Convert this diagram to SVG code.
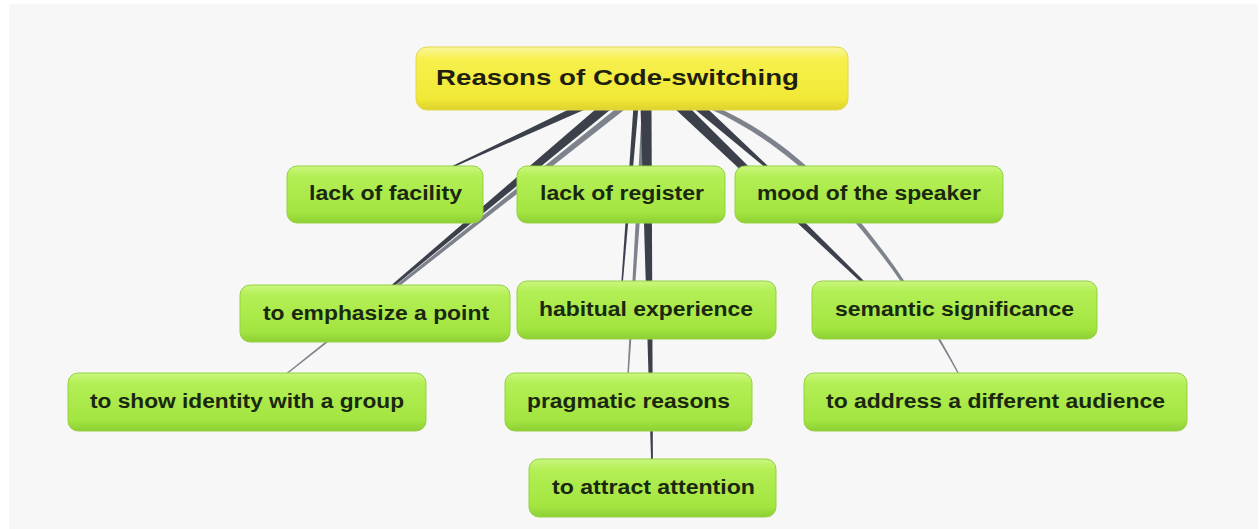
<svg xmlns="http://www.w3.org/2000/svg" width="1260" height="529" viewBox="0 0 1260 529">
  <defs>
    <linearGradient id="gGreen" x1="0" y1="0" x2="0" y2="1">
      <stop offset="0" stop-color="#c9f77e"/>
      <stop offset="0.18" stop-color="#b3ef55"/>
      <stop offset="0.82" stop-color="#a3e540"/>
      <stop offset="1" stop-color="#8ccf34"/>
    </linearGradient>
    <linearGradient id="gYellow" x1="0" y1="0" x2="0" y2="1">
      <stop offset="0" stop-color="#faf79c"/>
      <stop offset="0.2" stop-color="#f6f04c"/>
      <stop offset="0.82" stop-color="#f1e936"/>
      <stop offset="1" stop-color="#ddd22c"/>
    </linearGradient>
    <style>
      .box { fill: url(#gGreen); stroke: #97d044; stroke-width: 1; }
      .root { fill: url(#gYellow); stroke: #e2d84a; stroke-width: 1; }
      .lbl { font-family: "Liberation Sans", Arial, sans-serif; font-weight: bold; font-size: 19.5px; fill: #1a2810; }
      .title { font-family: "Liberation Sans", Arial, sans-serif; font-weight: bold; font-size: 22.5px; fill: #1f1f10; }
      .dark { fill: #3c404b; }
      .light { fill: #7e828c; }
    </style>
  </defs>

  <!-- page and canvas -->
  <rect x="0" y="0" width="1260" height="529" fill="#ffffff"/>
  <rect x="9" y="4" width="1249" height="525" fill="#f7f7f7"/>

  <!-- tapered branches, drawn under the nodes -->
  <g id="connectors">
    <polygon class="dark" points="582.5,102.8 451.7,166.3 452.3,167.7 585.5,109.2"/>
    <polygon class="light" points="622.1,103.7 284.6,374.5 285.4,375.6 625.9,108.4"/>
    <polygon class="dark" points="603.8,102.2 389.2,287.1 390.8,288.9 610.2,109.8"/>
    <polygon class="dark" points="633.5,105.8 621.3,282.9 622.8,283.1 638.5,106.2"/>
    <polygon class="light" points="642.0,105.8 627.3,375.0 628.7,375.0 648.0,106.2"/>
    <polygon class="dark" points="640.5,106.1 651.1,461.0 652.9,461.0 651.5,105.9"/>
    <polygon class="dark" points="676.2,110.0 864.0,285.1 866.0,282.9 683.8,102.0"/>
    <polygon class="dark" points="695.0,109.4 767.0,169.1 769.0,166.9 701.0,102.6"/>
    <path class="light" d="M712,105 C822,152 900,262 960,375 L958.6,375 C897,264 818,157 710,109 Z"/>
  </g>

  <g id="root">
    <rect class="root" x="416" y="47" width="432" height="63" rx="11"/>
    <text class="title" x="436" y="85" textLength="363" lengthAdjust="spacingAndGlyphs">Reasons of Code-switching</text>
  </g>

  <g id="lack-of-facility">
    <rect class="box" x="287" y="166" width="196" height="57" rx="10"/>
    <text class="lbl" x="309" y="200" textLength="153" lengthAdjust="spacingAndGlyphs">lack of facility</text>
  </g>
  <g id="lack-of-register">
    <rect class="box" x="517" y="166" width="208" height="57" rx="10"/>
    <text class="lbl" x="540" y="200" textLength="164" lengthAdjust="spacingAndGlyphs">lack of register</text>
  </g>
  <g id="mood-of-the-speaker">
    <rect class="box" x="735" y="166" width="268" height="57" rx="10"/>
    <text class="lbl" x="757" y="200" textLength="224" lengthAdjust="spacingAndGlyphs">mood of the speaker</text>
  </g>

  <g id="to-emphasize-a-point">
    <rect class="box" x="240" y="285" width="270" height="57" rx="10"/>
    <text class="lbl" x="263" y="320" textLength="226" lengthAdjust="spacingAndGlyphs">to emphasize a point</text>
  </g>
  <g id="habitual-experience">
    <rect class="box" x="517" y="281" width="259" height="58" rx="10"/>
    <text class="lbl" x="539" y="316" textLength="214" lengthAdjust="spacingAndGlyphs">habitual experience</text>
  </g>
  <g id="semantic-significance">
    <rect class="box" x="812" y="281" width="285" height="58" rx="10"/>
    <text class="lbl" x="835" y="316" textLength="239" lengthAdjust="spacingAndGlyphs">semantic significance</text>
  </g>

  <g id="to-show-identity">
    <rect class="box" x="68" y="373" width="358" height="58" rx="10"/>
    <text class="lbl" x="90" y="408" textLength="314" lengthAdjust="spacingAndGlyphs">to show identity with a group</text>
  </g>
  <g id="pragmatic-reasons">
    <rect class="box" x="505" y="373" width="247" height="58" rx="10"/>
    <text class="lbl" x="527" y="408" textLength="203" lengthAdjust="spacingAndGlyphs">pragmatic reasons</text>
  </g>
  <g id="to-address-audience">
    <rect class="box" x="804" y="373" width="383" height="58" rx="10"/>
    <text class="lbl" x="826" y="408" textLength="339" lengthAdjust="spacingAndGlyphs">to address a different audience</text>
  </g>

  <g id="to-attract-attention">
    <rect class="box" x="529" y="459" width="247" height="58" rx="10"/>
    <text class="lbl" x="552" y="494" textLength="203" lengthAdjust="spacingAndGlyphs">to attract attention</text>
  </g>
</svg>
